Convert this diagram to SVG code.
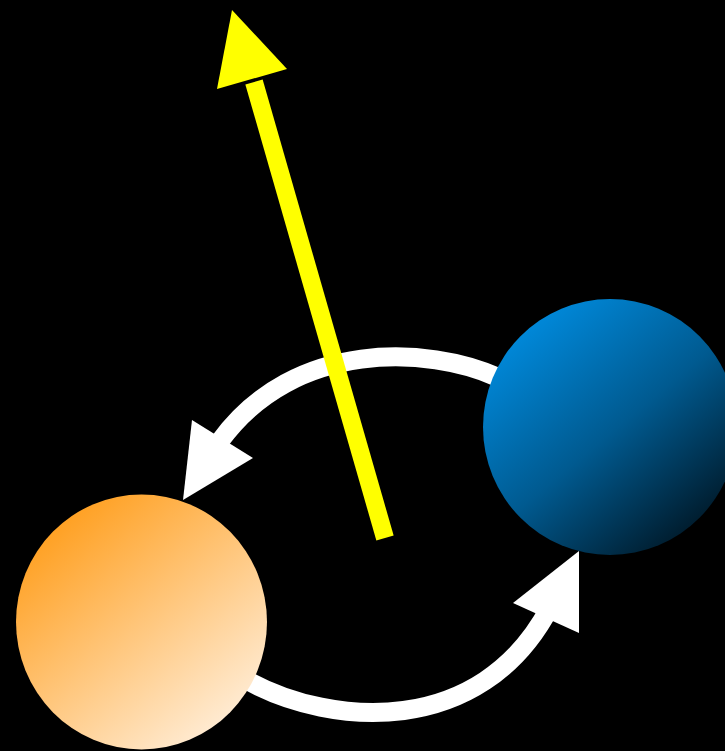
<svg xmlns="http://www.w3.org/2000/svg" width="725" height="751" viewBox="0 0 725 751">
<defs>
<linearGradient id="gOrange" x1="0.15" y1="0.1" x2="0.85" y2="0.95">
<stop offset="0" stop-color="#FF9F1F"/>
<stop offset="1" stop-color="#FFEFDC"/>
</linearGradient>
<linearGradient id="gBlue" x1="0.15" y1="0.1" x2="0.85" y2="0.95">
<stop offset="0" stop-color="#008ADC"/>
<stop offset="0.5" stop-color="#005A90"/>
<stop offset="1" stop-color="#001522"/>
</linearGradient>
<style>
.wline{fill:none;stroke:#FFFFFF;stroke-width:19}
.whead{fill:#FFFFFF}
.yline{fill:none;stroke:#FFFF00;stroke-width:18}
.yhead{fill:#FFFF00}
</style>
</defs>
<rect x="0" y="0" width="725" height="751" fill="#000000"/>
<g id="connectors">
<g id="arrow-blue-to-orange">
<path class="wline" d="M 497 377 C 430 347, 295 338, 220 441"/>
<polygon class="whead" points="183,500 192,420 253,458"/>
</g>
<g id="arrow-orange-to-blue">
<path class="wline" d="M 250 682 C 330 725, 480 740, 550 607"/>
<polygon class="whead" points="579,551 513,603 579,633"/>
</g>
<g id="arrow-yellow">
<line class="yline" x1="385" y1="538" x2="254" y2="82"/>
<polygon class="yhead" points="232,10 287,69 217,89"/>
</g>
</g>
<g id="node-orange">
<ellipse cx="141.5" cy="622" rx="125.5" ry="127.5" fill="url(#gOrange)"/>
</g>
<g id="node-blue">
<ellipse cx="610" cy="427" rx="127" ry="128" fill="url(#gBlue)"/>
</g>
</svg>
